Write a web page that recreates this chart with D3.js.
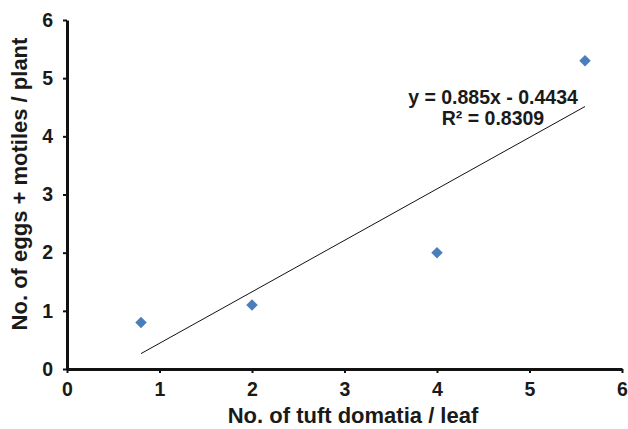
<!DOCTYPE html>
<html>
<head>
<meta charset="utf-8">
<title>Tuft domatia vs eggs + motiles</title>
<style>
  body { margin: 0; background: #fff; }
  svg text { font-family: "Liberation Sans", Arial, sans-serif; font-weight: bold; fill: #1a1a1a; }
</style>
</head>
<body>
<script src="https://d3js.org/d3.v7.min.js"></script>
<script>
// data
var domatia = [0.8, 2, 4, 5.6];
var eggsMotiles = [0.8, 1.1, 2, 5.3];
var xTicks = [0, 1, 2, 3, 4, 5, 6];
var yTicks = [0, 1, 2, 3, 4, 5, 6];
var slope = 0.885;
var intercept = -0.4434;
var equationLines = ["y = 0.885x - 0.4434", "R\u00b2 = 0.8309"];

var width = 628, height = 429;
var svg = d3.select("body").append("svg")
    .attr("width", width)
    .attr("height", height);

var x = d3.scaleLinear().domain([0, 6]).range([67, 622]);
var y = d3.scaleLinear().domain([0, 6]).range([369, 20]);

// trend line over the range of the data
var xMin = d3.min(domatia), xMax = d3.max(domatia);
svg.append("line")
    .attr("x1", x(xMin)).attr("y1", y(slope * xMin + intercept))
    .attr("x2", x(xMax)).attr("y2", y(slope * xMax + intercept))
    .attr("stroke", "#111")
    .attr("stroke-width", 1);

// axes
var xAxis = svg.append("g")
    .attr("transform", "translate(0," + y(0) + ")")
    .call(d3.axisBottom(x).tickValues(xTicks).tickFormat(d3.format("d"))
        .tickSize(4).tickSizeOuter(0).tickPadding(9));
var yAxis = svg.append("g")
    .attr("transform", "translate(" + x(0) + ",0)")
    .call(d3.axisLeft(y).tickValues(yTicks).tickFormat(d3.format("d"))
        .tickSize(4).tickSizeOuter(0).tickPadding(10));

[xAxis, yAxis].forEach(function(g) {
    g.select(".domain").attr("stroke", "#111").attr("stroke-width", 3);
    g.selectAll(".tick line").attr("stroke", "#111").attr("stroke-width", 2);
    g.selectAll(".tick text")
        .attr("fill", "#1a1a1a")
        .style("font-family", "'Liberation Sans', Arial, sans-serif")
        .style("font-weight", "bold")
        .style("font-size", "19.5px");
});

// points
svg.selectAll(".pt")
    .data(domatia)
    .enter()
    .append("path")
    .attr("class", "pt")
    .attr("d", d3.symbol().type(d3.symbolSquare).size(66))
    .attr("transform", function(d, i) {
        return "translate(" + x(d) + "," + y(eggsMotiles[i]) + ") rotate(45)";
    })
    .attr("fill", "#4a7ebb");

// equation label
svg.selectAll(".eq")
    .data(equationLines)
    .enter()
    .append("text")
    .attr("class", "eq")
    .attr("x", 493)
    .attr("y", function(d, i) { return 104 + i * 21; })
    .attr("text-anchor", "middle")
    .style("font-size", "19.5px")
    .text(function(d) { return d; });

// axis titles
svg.append("text")
    .attr("x", 353)
    .attr("y", 423)
    .attr("text-anchor", "middle")
    .style("font-size", "22px")
    .text("No. of tuft domatia / leaf");

svg.append("text")
    .attr("transform", "translate(27,184) rotate(-90)")
    .attr("text-anchor", "middle")
    .style("font-size", "22px")
    .text("No. of eggs + motiles / plant");
</script>
</body>
</html>
